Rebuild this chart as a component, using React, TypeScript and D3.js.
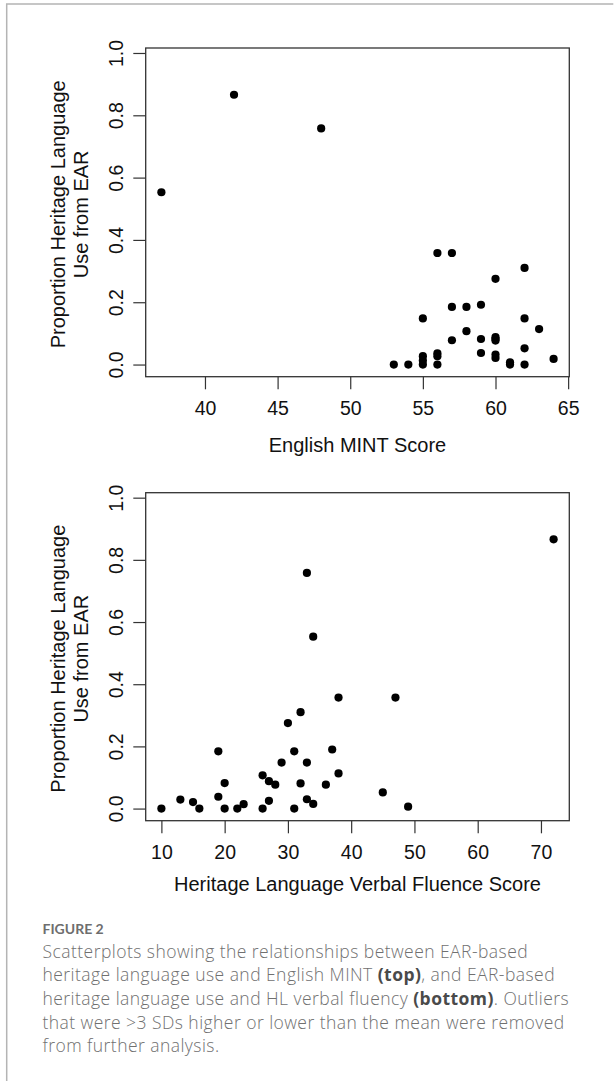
import React, { useEffect, useRef } from 'react';
import * as d3 from 'd3';

// Top panel: English MINT score vs proportion HL use
const mintScore = [37, 42, 48, 53, 54, 55, 55, 55, 55, 56, 56, 56, 56, 57, 57, 57, 58, 58, 59, 59, 59, 60, 60, 60, 60, 60, 60, 61, 61, 62, 62, 62, 62, 63, 64];
const mintHL = [0.553, 0.866, 0.758, 0, 0, 0, 0.013, 0.027, 0.148, 0.358, 0.036, 0.027, 0, 0.358, 0.185, 0.078, 0.185, 0.107, 0.192, 0.082, 0.037, 0.275, 0.088, 0.082, 0.077, 0.032, 0.021, 0.007, 0, 0.31, 0.148, 0.052, 0, 0.114, 0.018];

// Bottom panel: HL verbal fluency vs proportion HL use
const fluencyScore = [10, 13, 15, 16, 19, 19, 20, 20, 22, 23, 26, 26, 27, 27, 28, 29, 30, 31, 31, 32, 32, 33, 33, 33, 34, 34, 36, 37, 38, 38, 45, 47, 49, 72];
const fluencyHL = [0, 0.029, 0.021, 0, 0.184, 0.038, 0.082, 0, 0, 0.014, 0.107, 0, 0.088, 0.025, 0.077, 0.148, 0.275, 0.184, 0, 0.31, 0.081, 0.758, 0.148, 0.03, 0.553, 0.015, 0.077, 0.19, 0.357, 0.113, 0.052, 0.357, 0.006, 0.866];

const mintTicks = [40, 45, 50, 55, 60, 65];
const fluencyTicks = [10, 20, 30, 40, 50, 60, 70];
const yTicks = [0, 0.2, 0.4, 0.6, 0.8, 1.0];

const captionTitle = 'FIGURE 2';
const captionLines = [
  [{ t: 'Scatterplots showing the relationships between EAR-based' }],
  [{ t: 'heritage language use and English MINT ' }, { t: '(top)', b: true }, { t: ', and EAR-based' }],
  [{ t: 'heritage language use and HL verbal fluency ' }, { t: '(bottom)', b: true }, { t: '. Outliers' }],
  [{ t: 'that were >3 SDs higher or lower than the mean were removed' }],
  [{ t: 'from further analysis.' }]
];

const W = 614;
const H = 1081;
const FONT = "'Liberation Sans', Arial, sans-serif";
const CAP_FONT = "'Open Sans', Lato, sans-serif";

const App = () => {
  const ref = useRef(null);

  useEffect(() => {
    const svg = d3.select(ref.current);
    svg.selectAll('*').remove();

    // outer frame (left + top only visible)
    svg.append('path')
      .attr('d', `M6.7,${H} V4 H613.3`)
      .attr('fill', 'none')
      .attr('stroke', '#b4b4b4')
      .attr('stroke-width', 1.5);

    const box = { left: 145.7, right: 569.3 };

    const drawPanel = (top, bottom, xDomain, ticks, xs, ys, xTitle, titleBase) => {
      const x = d3.scaleLinear().domain(xDomain).range([box.left, box.right]);
      const y = d3.scaleLinear().domain([-0.039, 1.016]).range([bottom, top]);
      const g = svg.append('g');

      // x axis
      const xa = g.append('g')
        .attr('transform', `translate(0,${bottom})`)
        .call(d3.axisBottom(x).tickValues(ticks).tickSize(12.6).tickSizeOuter(0).tickFormat(d3.format('d')));
      xa.select('.domain').remove();
      xa.selectAll('line').attr('stroke', '#333').attr('stroke-width', 1.2);
      xa.selectAll('text')
        .attr('y', 38).attr('dy', null)
        .attr('fill', '#111')
        .style('font-family', FONT).style('font-size', '19.5px');

      // y axis (rotated labels like base R)
      const ya = g.append('g')
        .attr('transform', `translate(${box.left},0)`)
        .call(d3.axisLeft(y).tickValues(yTicks).tickSize(12.4).tickSizeOuter(0).tickFormat(d3.format('.1f')));
      ya.select('.domain').remove();
      ya.selectAll('line').attr('stroke', '#333').attr('stroke-width', 1.2);
      ya.selectAll('text')
        .attr('x', 0).attr('y', -22.6).attr('dy', null)
        .attr('transform', 'rotate(-90)')
        .attr('text-anchor', 'middle')
        .attr('fill', '#111')
        .style('font-family', FONT).style('font-size', '19.5px');

      g.append('rect')
        .attr('x', box.left).attr('y', top)
        .attr('width', box.right - box.left).attr('height', bottom - top)
        .attr('fill', 'none').attr('stroke', '#333').attr('stroke-width', 1.3);

      g.append('g')
        .selectAll('circle')
        .data(xs.map((v, i) => [v, ys[i]]))
        .enter().append('circle')
        .attr('cx', d => x(d[0]))
        .attr('cy', d => y(d[1]))
        .attr('r', 4.1)
        .attr('fill', '#000');

      g.append('text')
        .attr('x', (box.left + box.right) / 2)
        .attr('y', titleBase)
        .attr('text-anchor', 'middle')
        .attr('fill', '#111')
        .style('font-family', FONT).style('font-size', '20px')
        .text(xTitle);

      const cy = (top + bottom) / 2 + 2;
      [['Proportion Heritage Language', 64.5], ['Use from EAR', 88]].forEach(([s, bx]) => {
        g.append('text')
          .attr('transform', `translate(${bx},${cy}) rotate(-90)`)
          .attr('text-anchor', 'middle')
          .attr('fill', '#111')
          .style('font-family', FONT).style('font-size', '20px')
          .text(s);
      });
    };

    drawPanel(48, 376.7, [35.92, 65.08], mintTicks, mintScore, mintHL, 'English MINT Score', 451.7);
    drawPanel(492.7, 820.7, [7.52, 74.48], fluencyTicks, fluencyScore, fluencyHL, 'Heritage Language Verbal Fluence Score', 890.7);

    // caption
    svg.append('text')
      .attr('x', 42.5).attr('y', 933.7)
      .attr('fill', '#6e6e6e')
      .style('font-family', "Lato, 'Open Sans', sans-serif")
      .style('font-weight', 700)
      .style('font-size', '14px')
      .text(captionTitle);

    captionLines.forEach((parts, i) => {
      const t = svg.append('text')
        .attr('x', 42.5).attr('y', 957.7 + i * 23.6)
        .style('font-family', CAP_FONT)
        .style('font-size', '17.5px')
        .style('letter-spacing', '0.45px');
      parts.forEach(p => {
        t.append('tspan')
          .attr('fill', p.b ? '#4a4a4a' : '#707070')
          .style('font-weight', p.b ? 700 : 300)
          .text(p.t);
      });
    });
  }, []);

  return (
    <svg ref={ref} width={W} height={H}
      style={{ position: 'absolute', left: 0, top: 0, background: '#fff' }} />
  );
};

export default App;
